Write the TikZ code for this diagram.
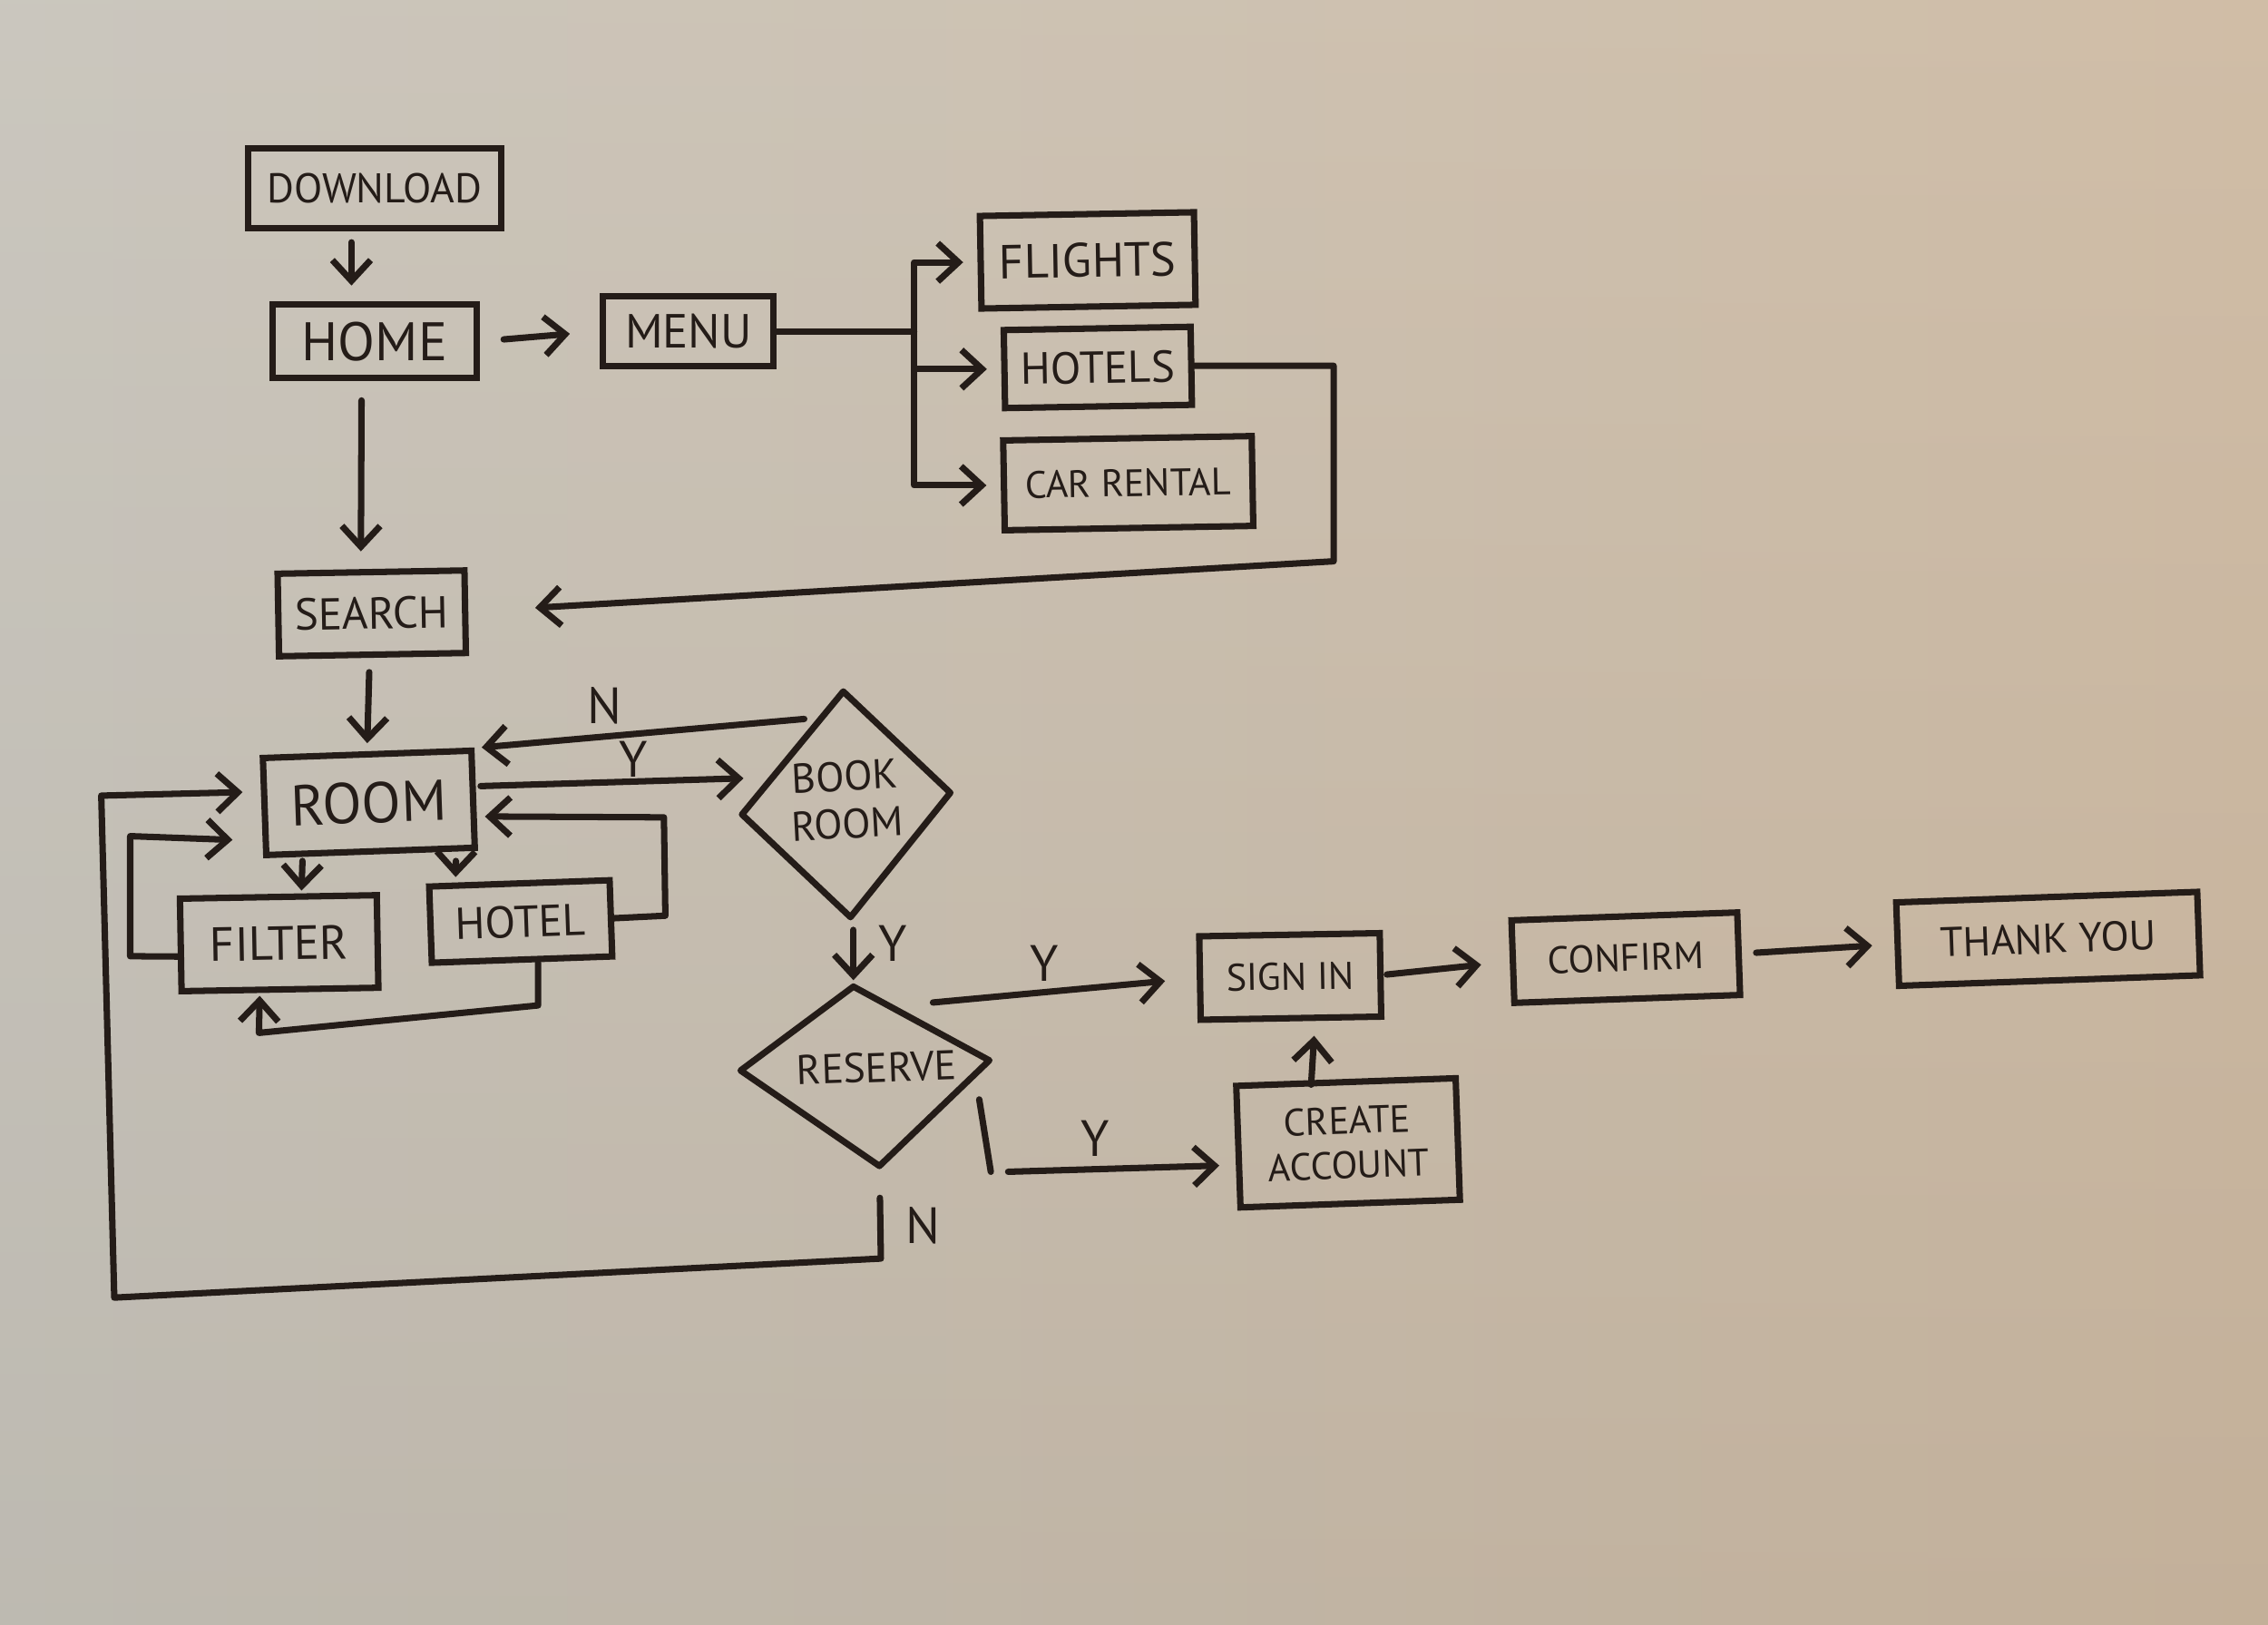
\documentclass[tikz,border=0pt]{standalone}
\usepackage{fontspec}
\setmainfont{PT Sans}
\usetikzlibrary{arrows.meta,calc}
\definecolor{ink}{RGB}{36,28,24}
\definecolor{paperL}{RGB}{200,196,187}
\definecolor{paperR}{RGB}{206,186,162}
\newcommand\myfs[1]{\fontsize{#1}{#1}\selectfont}
\begin{document}
\begin{tikzpicture}[x=0.01594cm,y=-0.01594cm,
  box/.style={draw=ink,line width=2pt,inner sep=0pt,text=ink,align=center},
  arr/.style={draw=ink,line width=2pt,-{Straight Barb[length=6.5pt,width=12pt]},line cap=round,line join=round},
  ln/.style={draw=ink,line width=2pt,line cap=round,line join=round},
  lbl/.style={text=ink,font=\myfs{16},inner sep=0pt}]
\useasboundingbox (0,0) rectangle (1568,1123);
\shade[left color=paperL,right color=paperR] (0,0) rectangle (1568,1123);
\shade[top color=white,bottom color=black,opacity=0.05] (0,0) rectangle (1568,1123);

% boxes
\node[box,minimum width=2.79cm,minimum height=0.88cm,font=\myfs{13}] (dl) at (259,130) {DOWNLOAD};
\node[box,minimum width=2.25cm,minimum height=0.81cm,font=\myfs{17}] (home) at (259,236) {HOME};
\node[box,minimum width=1.88cm,minimum height=0.77cm,font=\myfs{15}] (menu) at (476,229) {MENU};
\node[box,minimum width=2.36cm,minimum height=1.02cm,font=\myfs{15},rotate=1] (fl) at (752,180) {FLIGHTS};
\node[box,minimum width=2.06cm,minimum height=0.86cm,font=\myfs{14},rotate=1] (ht) at (759,254) {HOTELS};
\node[box,minimum width=2.74cm,minimum height=0.99cm,font=\myfs{12},rotate=1] (cr) at (780,334) {CAR RENTAL};
\node[box,minimum width=2.06cm,minimum height=0.91cm,font=\myfs{14},rotate=1] (search) at (257,424) {SEARCH};
\node[box,minimum width=2.30cm,minimum height=1.07cm,font=\myfs{18},rotate=2] (room) at (255,555) {ROOM};
\node[box,minimum width=2.17cm,minimum height=1.02cm,font=\myfs{15},rotate=1] (filter) at (193,652) {FILTER};
\node[box,minimum width=1.99cm,minimum height=0.84cm,font=\myfs{14},rotate=2] (hotel) at (360,637) {HOTEL};
\node[box,minimum width=1.99cm,minimum height=0.92cm,font=\myfs{12},rotate=1] (signin) at (892,675) {SIGN IN};
\node[box,minimum width=2.42cm,minimum height=1.34cm,font=\fontsize{12}{14}\selectfont,rotate=2] (create) at (932,790) {CREATE\\ACCOUNT};
\node[box,minimum width=2.49cm,minimum height=0.91cm,font=\myfs{12},rotate=2] (confirm) at (1124,662) {CONFIRM};
\node[box,minimum width=3.32cm,minimum height=0.92cm,font=\myfs{13},rotate=2] (thanks) at (1416,649) {THANK YOU};

% diamonds
\coordinate (bkT) at (583,478); \coordinate (bkR) at (657,548);
\coordinate (bkB) at (588,634); \coordinate (bkL) at (513,563);
\draw[ln] (bkT) -- (bkR) -- (bkB) -- (bkL) -- cycle;
\node[text=ink,font=\fontsize{13}{15}\selectfont,align=center,rotate=3] (book) at (585,553) {BOOK\\ROOM};
\coordinate (rsT) at (590,682); \coordinate (rsR) at (684,733);
\coordinate (rsB) at (608,806); \coordinate (rsL) at (512,740);
\draw[ln] (rsT) -- (rsR) -- (rsB) -- (rsL) -- cycle;
\node[text=ink,font=\myfs{13},rotate=2] (reserve) at (606,738) {RESERVE};

% connectors top
\draw[arr,shorten <=3.5pt,shorten >=5pt] ($(dl.south)+(-16,0)$) -- ($(home.north)+(-16,0)$);
\draw[arr,shorten <=7.5pt,shorten >=9.5pt] (home.east) -- (menu.west);
\coordinate (br) at (632,229);
\draw[ln] (menu.east) -- (br);
\draw[arr,shorten >=4.5pt] (br) |- (fl.west);
\draw[arr,shorten >=4.5pt] (br) |- (ht.west);
\draw[arr,shorten >=4.5pt] (br) |- (cr.west);
\draw[arr,shorten <=6pt,shorten >=5.5pt] ($(home.south)+(-9,0)$) -- ($(search.north)+(-7,0)$);
\coordinate (hr2) at (922,388);
\draw[arr,shorten >=21pt] (ht.east) -| (hr2) -- (search.east);
\draw[arr,shorten <=4.5pt,shorten >=2.5pt] ($(search.south)+(-2,0)$) -- (room.north);

% room / book room
\draw[arr] ($(bkT)+(-27,19)$) -- ($(room.north east)+(5,0)$);
\node[lbl] (lN1) at (418,488) {N};
\draw[arr] ($(room.east)+(3,-9)$) -- ($(bkL)+(1,-25)$);
\node[lbl] (lY1) at (438,525) {Y};
\draw[arr,shorten <=2pt,shorten >=1pt] ($(room.south)+(-47,0)$) -- ($(filter.north)+(16,0)$);
\draw[arr,shorten <=2pt,shorten >=1pt] ($(room.south)+(59,0)$) -- ($(hotel.north)+(-44,0)$);
\coordinate (hlA) at (460,633); \coordinate (hlB) at (459,565);
\draw[arr] (hotel.east) -- (hlA) -- (hlB) -- ($(room.east)+(6,12)$);
\coordinate (hfA) at (372,695); \coordinate (hfB) at (179,714);
\draw[arr,shorten >=1pt] ($(hotel.south)+(11,0)$) -- (hfA) -- (hfB) -- ($(filter.south)+(-14,0)$);
\coordinate (frA) at (90,661); \coordinate (frB) at (90,578);
\draw[arr] ($(filter.west)+(0,8)$) -- (frA) -- (frB) -- ($(room.west)+(-20,23)$);

% decisions
\draw[arr,shorten <=4pt,shorten >=2pt] ($(bkB)+(2,0)$) -- (rsT);
\node[lbl] (lY2) at (617,652) {Y};
\draw[arr,shorten >=10pt] ($(rsT)+(55,11)$) -- (signin.west);
\node[lbl] (lY3) at (722,666) {Y};
\coordinate (rcA) at (677,760); \coordinate (rcB) at (685,810);
\draw[ln] (rcA) -- (rcB);
\draw[arr] ($(rcB)+(12,0)$) -- ($(create.west)+(-11,13)$);
\node[lbl] (lY4) at (757,787) {Y};
\coordinate (rnB) at (609,870); \coordinate (rnC) at (79,897); \coordinate (rnD) at (70,550);
\draw[arr,shorten <=10pt] (rsB) -- (rnB) -- (rnC) -- (rnD) -- ($(room.west)+(-13,-10)$);
\node[lbl] (lN2) at (638,847) {N};

% right part
\draw[arr] ($(create.north)+(-24,4)$) -- ($(signin.south)+(16,10)$);
\draw[arr,shorten <=1pt,shorten >=9pt] (signin.east) -- (confirm.west);
\draw[arr,shorten <=4.5pt,shorten >=7pt] (confirm.east) -- (thanks.west);
\end{tikzpicture}
\end{document}
